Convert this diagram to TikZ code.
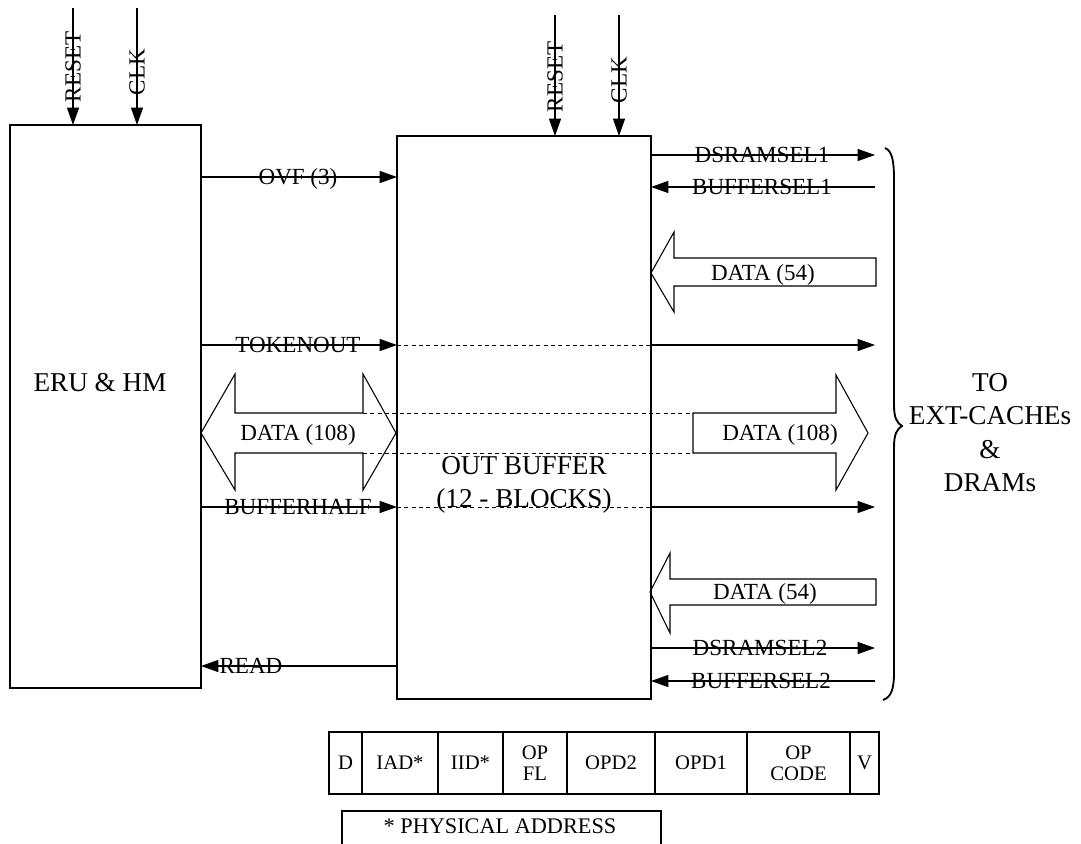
\documentclass[tikz,border=0pt]{standalone}
\usepackage{fontspec}
\setmainfont{Liberation Serif}
\usetikzlibrary{arrows.meta}
\begin{document}
\begin{tikzpicture}[x=0.75pt,y=-0.75pt,
  box/.style={draw, line width=0.8pt, inner sep=0pt, outer sep=0pt},
  sig/.style={line width=0.8pt},
  arr/.style={sig, -{Triangle[length=13pt,width=9pt]}},
  lbl/.style={font=\fontsize{17.3}{20}\selectfont, inner sep=0pt, text height=11.4pt, text depth=0pt},
  big/.style={font=\fontsize{20.4}{25}\selectfont, inner sep=0pt, align=center},
  dsh/.style={line width=0.7pt, dash pattern=on 3pt off 2.5pt},
  fat/.style={draw, line width=0.8pt, line join=miter},
  cell/.style={draw, line width=0.8pt, inner sep=0pt, outer sep=0pt, minimum height=46.5pt, align=center, font=\fontsize{15.5}{16}\selectfont}]
\useasboundingbox (0,0) rectangle (1081,843);

% main boxes
\node[box, minimum width=143.25pt, minimum height=422.25pt] (eru) at (105.5,406.5) {};
\node[big] (erut) at (100,383) {ERU \& HM};
\node[box, minimum width=190.5pt, minimum height=422.25pt] (ob) at (524,417.5) {};
\node[big] (obt) at (524,485) {OUT BUFFER\\(12 - BLOCKS)};

% reset / clk inputs
\coordinate (r1) at (73,8);
\coordinate (c1) at (137,8);
\coordinate (r2) at (555,15);
\coordinate (c2) at (619,15);
\draw[arr] (r1) -- (r1 |- eru.north);
\draw[arr] (c1) -- (c1 |- eru.north);
\draw[arr] (r2) -- (r2 |- ob.north);
\draw[arr] (c2) -- (c2 |- ob.north);
\node[lbl, rotate=90] (r1t) at (73,67) {RESET};
\node[lbl, rotate=90] (c1t) at (137,72) {CLK};
\node[lbl, rotate=90] (r2t) at (555,77) {RESET};
\node[lbl, rotate=90] (c2t) at (619,80) {CLK};

% left-side signals
\draw[arr] (eru.east |- 0,177) -- (ob.west |- 0,177);
\node[lbl] (ovf) at (298,177) {OVF (3)};
\draw[arr] (eru.east |- 0,345) -- (ob.west |- 0,345);
\node[lbl] (tok) at (298,345) {TOKENOUT};
\draw[arr] (eru.east |- 0,507) -- (ob.west |- 0,507);
\node[lbl] (bh) at (298,507) {BUFFERHALF};
\draw[arr] (ob.west |- 0,666) -- (eru.east |- 0,666);
\node[lbl] (rd) at (251,666) {READ};

% dashed pass-throughs
\draw[dsh] (ob.west |- 0,345) -- (ob.east |- 0,345);
\draw[dsh] (ob.west |- 0,507) -- (ob.east |- 0,507);
\draw[dsh] (363,413) -- (693,413);
\draw[dsh] (363,453) -- (693,453);

% right-side endpoints
\coordinate (e1) at (875,155);
\coordinate (e2) at (875,187);
\coordinate (e3) at (875,345);
\coordinate (e4) at (875,507);
\coordinate (e5) at (875,648);
\coordinate (e6) at (875,681);
\draw[arr] (ob.east |- e1) -- (e1);
\node[lbl] (ds1) at (762,155) {DSRAMSEL1};
\draw[arr] (e2) -- (ob.east |- e2);
\node[lbl] (bs1) at (762,187) {BUFFERSEL1};
\draw[arr] (ob.east |- e3) -- (e3);
\draw[arr] (ob.east |- e4) -- (e4);
\draw[arr] (ob.east |- e5) -- (e5);
\node[lbl] (ds2) at (760,648) {DSRAMSEL2};
\draw[arr] (e6) -- (ob.east |- e6);
\node[lbl] (bs2) at (761,681) {BUFFERSEL2};

% fat arrows
\draw[fat] (651,273) -- (674,232) -- (674,258) -- (876,258) -- (876,286) -- (674,286) -- (674,312) -- cycle;
\node[lbl] (d54a) at (763,273) {DATA (54)};
\draw[fat] (650,592) -- (670,553) -- (670,579) -- (876,579) -- (876,605) -- (670,605) -- (670,633) -- cycle;
\node[lbl] (d54b) at (765,592) {DATA (54)};
\draw[fat] (201,433) -- (235,374) -- (235,413) -- (363,413) -- (363,374) -- (396,433) -- (363,490) -- (363,453) -- (235,453) -- (235,490) -- cycle;
\node[lbl] (d108a) at (298,433) {DATA (108)};
\draw[fat] (693,413) -- (836,413) -- (836,375) -- (868,433) -- (836,490) -- (836,453) -- (693,453) -- cycle;
\node[lbl] (d108b) at (780,433) {DATA (108)};

% brace
\draw[line width=1.4pt] (885,148) .. controls (892,151) and (894,160) .. (894,180) -- (894,405)
  .. controls (894,418) and (897,423) .. (902,426) .. controls (897,429) and (894,434) .. (894,447)
  -- (894,672) .. controls (894,690) and (891,697) .. (883,700);
\node[big] (dest) at (990,432.5) {TO\\EXT-CACHEs\\\&\\DRAMs};

% token format table
\node[cell, minimum width=24.75pt] (cD) at (345.5,763) {D};
\node[cell, minimum width=57pt] (cIAD) at (400,763) {IAD*};
\node[cell, minimum width=48.75pt] (cIID) at (470.5,763) {IID*};
\node[cell, minimum width=48pt] (cOPFL) at (535,763) {OP\\FL};
\node[cell, minimum width=66pt] (cOPD2) at (611,763) {OPD2};
\node[cell, minimum width=69pt] (cOPD1) at (701,763) {OPD1};
\node[cell, minimum width=77.25pt] (cOPC) at (798.5,763) {OP\\CODE};
\node[cell, minimum width=21.75pt] (cV) at (864.5,763) {V};

% footnote box
\draw[line width=0.8pt] (342,845) -- (342,811) -- (661,811) -- (661,845);
\node[font=\fontsize{16.7}{18}\selectfont, inner sep=0pt] (phys) at (500,826) {* PHYSICAL ADDRESS};
\end{tikzpicture}
\end{document}
